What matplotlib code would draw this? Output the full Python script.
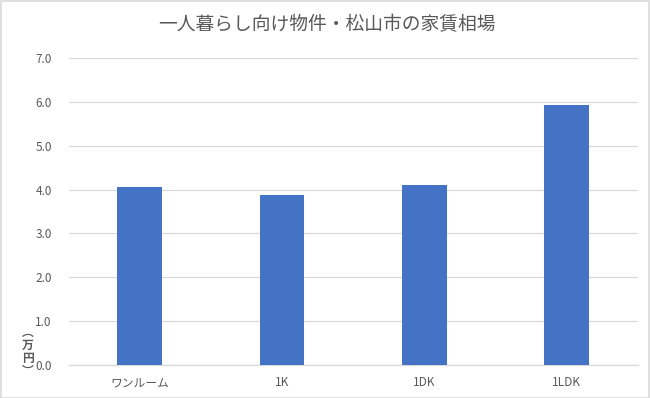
import matplotlib
matplotlib.use("Agg")
import matplotlib.pyplot as plt
from matplotlib.patches import Rectangle

plt.rcParams['font.family'] = ['Noto Sans CJK JP', 'DejaVu Sans']

categories = ["ワンルーム", "1K", "1DK", "1LDK"]
rent = [4.05, 3.87, 4.10, 5.93]
yticks = [0.0, 1.0, 2.0, 3.0, 4.0, 5.0, 6.0, 7.0]
title = "一人暮らし向け物件・松山市の家賃相場"
ylabel = "︵\n万\n円\n︶"

text_color = "#595959"
grid_color = "#d9d9d9"
bar_color = "#4472c4"

fig = plt.figure(figsize=(6.5, 3.98), dpi=100)
ax = fig.add_axes([0.1054, 0.0829, 0.8761, 0.7714])

x = list(range(len(categories)))
ax.bar(x, rent, width=0.314, color=bar_color, zorder=3)
ax.set_xlim(-0.5, len(categories) - 0.5)
ax.set_ylim(0, 7.0)
ax.set_yticks(yticks)
ax.set_yticklabels([f"{v:.1f}" for v in yticks])
ax.set_xticks(x)
ax.set_xticklabels(categories)
ax.tick_params(axis='both', length=0, labelsize=8.5, labelcolor=text_color)
ax.tick_params(axis='y', pad=12)
ax.tick_params(axis='x', pad=8)
ax.grid(axis='y', color=grid_color, linewidth=0.9, zorder=0)
for s in ['top', 'right', 'left']:
    ax.spines[s].set_visible(False)
ax.spines['bottom'].set_color(grid_color)
ax.spines['bottom'].set_linewidth(0.9)

fig.text(0.503, 0.937, title, ha='center', va='center', fontsize=13.5, color=text_color)
fig.text(0.043, 0.116, ylabel, ha='center', va='center', fontsize=8.5, color=text_color,
         linespacing=1.0, fontweight='bold')

fig.patches.append(Rectangle((0.001, 0.001), 0.997, 0.997, transform=fig.transFigure,
                             fill=False, edgecolor=grid_color, linewidth=1.2))

fig.savefig("out.png", dpi=100)
